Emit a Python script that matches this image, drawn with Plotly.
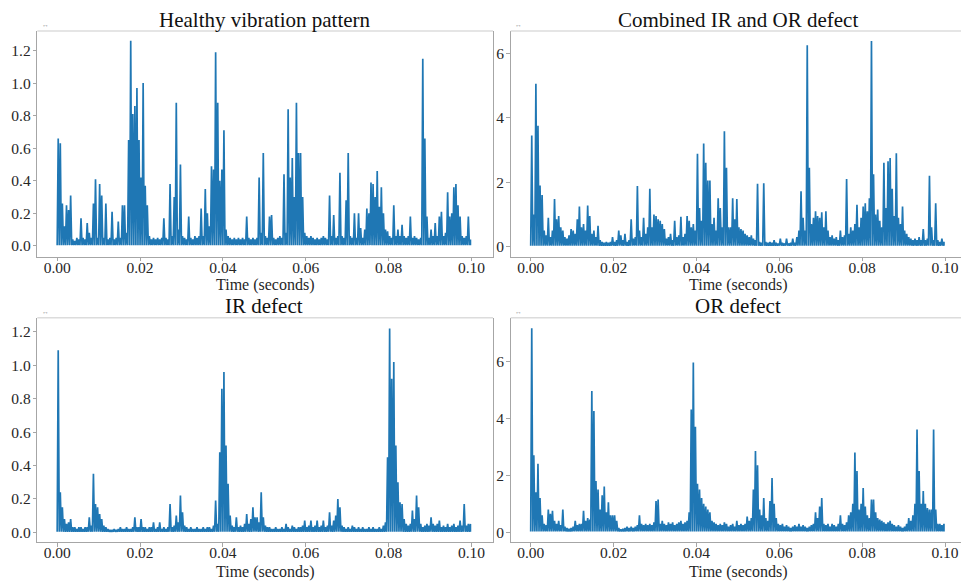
import plotly.graph_objects as go

# ---------------- data (per-bin peak amplitude, bin width 0.0005 s) ----------------
DT = 0.0005

healthy = [0.66,0.63,0.26,0.12,0.25,0.22,0.31,0.04,0.03,0.05,
           0.04,0.17,0.05,0.04,0.14,0.08,0.05,0.26,0.41,0.05,
           0.38,0.31,0.05,0.26,0.04,0.05,0.21,0.04,0.05,0.15,
           0.05,0.25,0.25,0.08,0.65,1.26,0.81,0.86,0.97,0.65,
           0.42,1.00,0.37,0.25,0.06,0.04,0.05,0.04,0.05,0.04,
           0.05,0.17,0.05,0.04,0.38,0.06,0.30,0.88,0.10,0.50,
           0.06,0.05,0.04,0.18,0.05,0.04,0.06,0.05,0.06,0.23,
           0.06,0.35,0.20,0.12,0.49,0.47,1.19,0.88,0.40,0.47,
           0.71,0.10,0.06,0.05,0.04,0.05,0.04,0.05,0.04,0.05,
           0.04,0.18,0.05,0.04,0.05,0.04,0.05,0.42,0.08,0.57,
           0.06,0.05,0.18,0.19,0.05,0.04,0.05,0.06,0.05,0.44,
           0.08,0.84,0.42,0.54,0.30,0.88,0.57,0.57,0.30,0.08,
           0.06,0.05,0.06,0.05,0.04,0.05,0.04,0.05,0.06,0.05,
           0.04,0.31,0.06,0.19,0.05,0.06,0.45,0.06,0.05,0.28,
           0.57,0.06,0.05,0.20,0.05,0.20,0.11,0.05,0.10,0.23,
           0.20,0.39,0.38,0.30,0.46,0.24,0.36,0.20,0.10,0.09,
           0.06,0.05,0.25,0.06,0.10,0.06,0.13,0.06,0.05,0.06,
           0.18,0.05,0.06,0.05,0.04,0.05,1.15,0.66,0.18,0.05,
           0.10,0.06,0.14,0.06,0.18,0.21,0.06,0.08,0.33,0.18,
           0.20,0.36,0.38,0.25,0.18,0.06,0.05,0.06,0.18,0.04]

combined = [3.45,1.00,5.05,3.75,1.90,1.60,0.50,0.35,0.90,0.30,
            0.50,1.48,0.85,0.95,0.60,0.50,0.30,0.25,0.35,0.55,
            0.50,0.40,0.85,1.25,0.60,0.70,0.50,1.28,0.95,0.40,
            0.50,0.30,0.65,0.20,0.15,0.12,0.15,0.12,0.15,0.30,
            0.15,0.20,0.50,0.35,0.20,0.40,0.15,0.20,0.85,0.25,
            0.30,1.88,0.50,0.30,0.90,0.40,0.60,1.80,0.60,1.00,
            0.95,0.85,0.80,0.70,0.55,0.25,0.30,0.40,0.20,0.80,
            0.30,0.35,0.93,0.30,0.40,0.95,0.80,0.60,0.70,0.50,
            2.88,1.20,0.80,3.20,2.60,2.05,2.05,0.70,0.90,0.50,
            1.50,1.20,0.60,3.58,2.45,0.60,0.60,1.50,0.85,1.48,
            0.60,0.55,0.50,0.40,0.35,0.30,0.35,0.25,0.20,1.95,
            0.15,0.12,1.97,0.15,0.12,0.15,0.12,0.20,0.12,0.10,
            0.25,0.12,0.10,0.25,0.10,0.12,0.25,0.12,0.30,0.50,
            1.72,0.90,0.50,6.25,2.45,0.70,0.90,1.10,0.95,0.90,
            1.07,0.60,1.10,0.50,0.30,0.35,0.25,0.30,0.20,0.50,
            0.30,0.35,2.10,0.40,0.60,0.50,0.70,1.30,0.60,0.90,
            1.25,1.35,1.10,1.50,6.38,2.25,1.00,1.15,0.80,0.60,
            2.60,1.20,2.65,2.75,1.80,0.95,2.90,0.90,0.70,1.25,
            0.50,0.40,0.30,0.25,0.20,0.25,0.20,0.30,0.20,0.55,
            0.20,0.25,2.20,0.60,0.20,1.35,0.20,0.15,0.25,0.15]

ir_defect = [1.09,0.24,0.15,0.08,0.05,0.06,0.08,0.03,0.03,0.02,
             0.03,0.03,0.02,0.03,0.03,0.09,0.04,0.35,0.17,0.15,
             0.11,0.08,0.04,0.03,0.02,0.015,0.015,0.02,0.015,0.02,
             0.03,0.02,0.02,0.03,0.02,0.02,0.03,0.09,0.03,0.03,
             0.08,0.03,0.03,0.02,0.03,0.03,0.06,0.02,0.03,0.06,
             0.02,0.03,0.02,0.03,0.17,0.03,0.04,0.10,0.06,0.22,
             0.12,0.04,0.03,0.02,0.03,0.02,0.02,0.03,0.02,0.02,
             0.03,0.02,0.03,0.03,0.02,0.04,0.19,0.05,0.48,0.86,
             0.96,0.52,0.29,0.10,0.04,0.03,0.09,0.03,0.04,0.03,
             0.05,0.11,0.05,0.08,0.15,0.09,0.09,0.06,0.24,0.09,
             0.04,0.03,0.03,0.02,0.02,0.03,0.02,0.02,0.03,0.02,
             0.05,0.03,0.02,0.04,0.03,0.02,0.03,0.03,0.04,0.07,
             0.03,0.04,0.07,0.03,0.04,0.07,0.03,0.04,0.07,0.03,
             0.04,0.12,0.04,0.07,0.10,0.20,0.15,0.04,0.03,0.02,
             0.03,0.02,0.04,0.03,0.02,0.03,0.02,0.03,0.02,0.02,
             0.03,0.02,0.03,0.02,0.02,0.03,0.02,0.04,0.06,0.45,
             1.22,0.92,1.02,0.52,0.30,0.18,0.17,0.08,0.05,0.04,
             0.05,0.13,0.08,0.22,0.15,0.05,0.03,0.04,0.05,0.04,
             0.09,0.05,0.04,0.05,0.07,0.03,0.04,0.03,0.05,0.03,
             0.04,0.05,0.03,0.04,0.07,0.04,0.17,0.04,0.05,0.05]

or_defect = [7.15,2.70,1.40,2.40,1.20,0.60,0.30,0.25,0.80,0.65,
             0.75,0.40,0.30,0.40,0.25,0.80,0.20,0.15,0.12,0.15,
             0.20,0.40,0.25,0.30,0.30,0.75,0.40,0.50,0.45,4.95,
             4.25,1.80,1.50,0.80,1.30,1.60,0.70,1.05,0.60,0.60,
             0.60,0.40,0.15,0.10,0.12,0.15,0.20,0.15,0.20,0.15,
             0.20,0.25,0.60,0.30,0.25,0.30,0.25,0.30,0.25,0.35,
             1.10,1.15,0.30,0.40,0.30,0.25,0.35,0.30,0.35,0.25,
             0.30,0.35,0.40,0.30,0.35,0.40,0.70,4.30,5.95,3.70,
             1.70,1.50,1.20,1.00,0.90,0.80,0.70,0.40,0.35,0.30,
             0.25,0.30,0.25,0.35,0.30,0.20,0.25,0.30,0.20,0.40,
             0.25,0.30,0.25,0.30,0.55,0.40,0.50,1.50,2.85,2.35,
             0.80,0.60,1.20,0.50,0.40,1.10,1.90,1.00,0.50,0.30,
             0.25,0.30,0.20,0.25,0.20,0.15,0.20,0.25,0.20,0.30,
             0.20,0.25,0.20,0.15,0.20,0.25,0.30,0.70,0.50,0.90,
             1.20,0.30,0.25,0.30,0.20,0.30,0.25,0.20,0.30,0.60,
             0.30,0.25,0.35,0.60,0.70,1.00,2.80,2.15,0.80,1.00,
             1.55,0.90,0.60,0.50,1.15,1.15,0.70,0.50,0.45,0.40,
             0.35,0.30,0.35,0.40,0.30,0.25,0.20,0.25,0.20,0.15,
             0.20,0.30,0.50,0.40,0.60,1.00,3.60,2.15,1.00,1.45,
             1.00,0.85,0.80,0.80,3.60,0.80,0.30,0.30,0.25,0.30]

# per-panel minimum (floor) level of the signal
floors = [0.005, 0.03, 0.003, 0.03]

titles = ["Healthy vibration pattern", "Combined IR and OR defect", "IR defect", "OR defect"]
x_title = "Time (seconds)"
series = [healthy, combined, ir_defect, or_defect]

x_tickvals = [0.00, 0.02, 0.04, 0.06, 0.08, 0.10]
x_ticktext = ["0.00", "0.02", "0.04", "0.06", "0.08", "0.10"]
y_small_vals = [0.0, 0.2, 0.4, 0.6, 0.8, 1.0, 1.2]
y_small_text = ["0.0", "0.2", "0.4", "0.6", "0.8", "1.0", "1.2"]
y_big_vals = [0, 2, 4, 6]
y_big_text = ["0", "2", "4", "6"]
y_ticks = [(y_small_vals, y_small_text), (y_big_vals, y_big_text),
           (y_small_vals, y_small_text), (y_big_vals, y_big_text)]
y_ranges = [[-0.066, 1.32], [-0.31, 6.69], [-0.058, 1.285], [-0.34, 7.52]]

# ---------------- layout geometry ----------------
W, H = 961, 581
x_domains = [[37.3 / W, 493 / W], [510.7 / W, 1.0], [37.3 / W, 493 / W], [510.7 / W, 1.0]]
top_dom = [(581 - 256.7) / H, (581 - 31) / H]
bot_dom = [(581 - 542) / H, (581 - 317.7) / H]
y_domains = [top_dom, top_dom, bot_dom, bot_dom]
x_ranges = [[-0.0048, 0.1052], [-0.00483, 0.10386], [-0.0048, 0.1052], [-0.00483, 0.10386]]
title_pos = [(265, 20), (738, 20), (264, 306), (738, 306)]
xtitle_pos = [(265, 285), (738, 285), (265, 572), (738, 572)]

FONT = "Liberation Serif, Times New Roman, serif"
SPINE = "#a6a6a6"
LINE = "#1f77b4"
TXT = "#262626"

fig = go.Figure()
layout = dict(width=W, height=H, margin=dict(l=0, r=0, t=0, b=0),
              paper_bgcolor="white", plot_bgcolor="white", showlegend=False,
              font=dict(family=FONT, size=15, color=TXT))
annotations = []
shapes = []

for k in range(4):
    vals = series[k]
    fl = floors[k]
    xs, ys = [], []
    for i, v in enumerate(vals):
        t = i * DT
        xs += [t, t + DT / 2]
        ys += [fl, v]
    xs.append(len(vals) * DT - DT / 2)
    ys.append(fl)
    sfx = "" if k == 0 else str(k + 1)
    fig.add_trace(go.Scatter(x=xs, y=ys, mode="lines",
                             line=dict(color=LINE, width=1.7),
                             xaxis="x" + sfx, yaxis="y" + sfx,
                             hoverinfo="skip"))
    right_mirror = (k % 2 == 0)
    layout["xaxis" + sfx] = dict(
        domain=x_domains[k], range=x_ranges[k], anchor="y" + sfx,
        tickvals=x_tickvals, ticktext=x_ticktext, ticks="outside", ticklen=3.5,
        tickcolor=SPINE, showline=True, linecolor=SPINE, linewidth=1,
        showgrid=False, zeroline=False, automargin=False, ticklabelstandoff=-7,
        tickfont=dict(family=FONT, size=15.5, color=TXT))
    layout["yaxis" + sfx] = dict(
        domain=y_domains[k], range=y_ranges[k], anchor="x" + sfx,
        tickvals=y_ticks[k][0], ticktext=y_ticks[k][1], ticks="outside", ticklen=3.5,
        tickcolor=SPINE, showline=True, linecolor=SPINE, linewidth=1,
        mirror=right_mirror, showgrid=False, zeroline=False, automargin=False,
        ticklabelstandoff=-1,
        tickfont=dict(family=FONT, size=15.5, color=TXT))
    # light top spine
    shapes.append(dict(type="line", xref="x" + sfx + " domain", yref="y" + sfx + " domain",
                       x0=0, x1=1, y0=1, y1=1, line=dict(color="#dcdcdc", width=1.5)))
    tx, ty = title_pos[k]
    annotations.append(dict(text=titles[k], xref="paper", yref="paper",
                            x=tx / W, y=(H - ty) / H, xanchor="center", yanchor="middle",
                            showarrow=False, font=dict(family=FONT, size=21, color="#111111")))
    ax_, ay_ = xtitle_pos[k]
    annotations.append(dict(text=x_title, xref="paper", yref="paper",
                            x=ax_ / W, y=(H - ay_) / H, xanchor="center", yanchor="middle",
                            showarrow=False, font=dict(family=FONT, size=16, color=TXT)))
    annotations.append(dict(text="↔", xref="x" + sfx + " domain", yref="y" + sfx + " domain",
                            x=0.005, y=1.0, xanchor="left", yanchor="bottom",
                            showarrow=False, font=dict(size=7, color="#999999")))

layout["annotations"] = annotations
layout["shapes"] = shapes
fig.update_layout(**layout)
fig.write_html("out.html")
